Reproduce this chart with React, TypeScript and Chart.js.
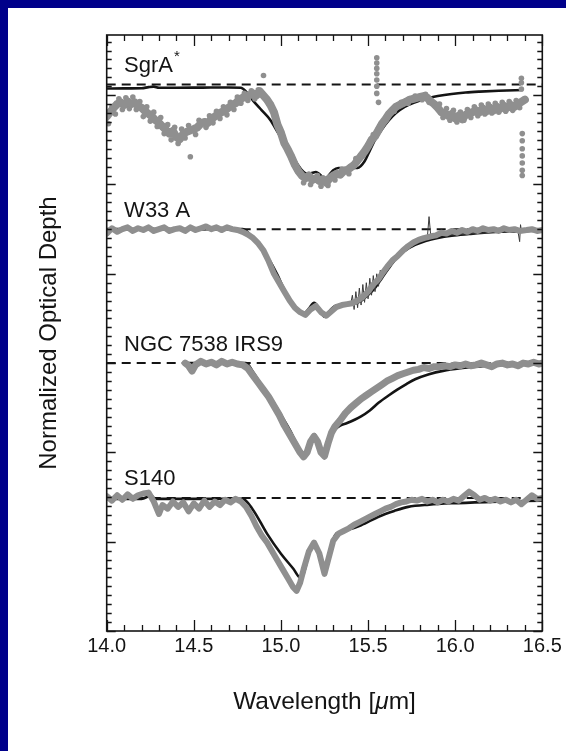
import { useEffect, useRef } from "react";
import { Chart, registerables } from "chart.js";

Chart.register(...registerables);

// ---------- axes ----------
const X_MIN = 14.0;
const X_MAX = 16.5;
const X_TICKS = [14.0, 14.5, 15.0, 15.5, 16.0, 16.5];
const Y_MIN = 0;
const Y_MAX = 6.674;
const X_TITLE_PARTS = ["Wavelength [", "μ", "m]"];
const Y_TITLE = "Normalized Optical Depth";

// ---------- spectra (label, baseline offset) ----------
const NAMES = ["SgrA", "W33 A", "NGC 7538 IRS9", "S140"];
const NAME_SUPERSCRIPTS = ["*", "", "", ""];
const BASELINES = [6.12, 4.5, 3.0, 1.49];

// depth below baseline, [wavelength, depth]
const SGR_FIT: [number, number][] = [
  [14.0, 0.045], [14.1, 0.044], [14.2, 0.042], [14.24, 0.03], [14.27, 0.024], [14.3, 0.036], [14.4, 0.036],
  [14.55, 0.035], [14.7, 0.034], [14.77, 0.036], [14.8, 0.08], [14.84, 0.18], [14.89, 0.29], [14.94, 0.4],
  [14.98, 0.53], [15.02, 0.66], [15.06, 0.78], [15.09, 0.88], [15.12, 0.96], [15.15, 1.0], [15.18, 0.99],
  [15.2, 0.98], [15.23, 1.02], [15.25, 1.07], [15.27, 1.03], [15.3, 0.96], [15.33, 0.935], [15.38, 0.935],
  [15.44, 0.935], [15.48, 0.86], [15.51, 0.74], [15.54, 0.62], [15.58, 0.5], [15.62, 0.4], [15.66, 0.32],
  [15.71, 0.25], [15.77, 0.2], [15.83, 0.16], [15.9, 0.13], [15.98, 0.106], [16.06, 0.09], [16.14, 0.08],
  [16.25, 0.07], [16.39, 0.062],
];
const SGR_DATA: [number, number][] = [
  [14.0, 0.36], [14.02, 0.31], [14.04, 0.26], [14.06, 0.22], [14.08, 0.2], [14.1, 0.23], [14.12, 0.19],
  [14.14, 0.22], [14.16, 0.2], [14.18, 0.24], [14.2, 0.26], [14.22, 0.3], [14.24, 0.33], [14.26, 0.36],
  [14.28, 0.4], [14.3, 0.43], [14.32, 0.47], [14.34, 0.51], [14.36, 0.55], [14.38, 0.52], [14.4, 0.59],
  [14.42, 0.61], [14.44, 0.55], [14.46, 0.53], [14.5, 0.5], [14.52, 0.48], [14.54, 0.44], [14.56, 0.42],
  [14.58, 0.43], [14.6, 0.39], [14.62, 0.36], [14.64, 0.33], [14.66, 0.31], [14.68, 0.29], [14.7, 0.26],
  [14.72, 0.23], [14.74, 0.21], [14.76, 0.17], [14.78, 0.15], [14.8, 0.13], [14.82, 0.12], [14.84, 0.1],
  [14.86, 0.12], [14.88, 0.08], [14.92, 0.17], [14.94, 0.23], [14.96, 0.31], [14.98, 0.45], [15.0, 0.54],
  [15.02, 0.66], [15.04, 0.73], [15.06, 0.81], [15.08, 0.9], [15.1, 0.97], [15.12, 1.02], [15.14, 1.05],
  [15.16, 1.02], [15.18, 1.07], [15.2, 1.05], [15.22, 1.08], [15.24, 1.06], [15.26, 1.1], [15.28, 1.05],
  [15.3, 1.02], [15.32, 1.0], [15.34, 1.01], [15.36, 0.97], [15.38, 0.96], [15.4, 0.93], [15.42, 0.9],
  [15.44, 0.85], [15.46, 0.8], [15.48, 0.75], [15.5, 0.69], [15.52, 0.62], [15.54, 0.58], [15.56, 0.51],
  [15.58, 0.44], [15.6, 0.39], [15.62, 0.33], [15.64, 0.29], [15.66, 0.25], [15.68, 0.23], [15.7, 0.21],
  [15.72, 0.19], [15.74, 0.17], [15.76, 0.16], [15.78, 0.15], [15.8, 0.14], [15.82, 0.13], [15.84, 0.15],
  [15.86, 0.19], [15.88, 0.22], [15.9, 0.26], [15.92, 0.31], [15.94, 0.32], [15.96, 0.35], [15.98, 0.33],
  [16.0, 0.38], [16.02, 0.35], [16.04, 0.39], [16.06, 0.34], [16.08, 0.32], [16.1, 0.31], [16.12, 0.29],
  [16.14, 0.31], [16.16, 0.27], [16.18, 0.3], [16.2, 0.26], [16.22, 0.29], [16.24, 0.25], [16.26, 0.27],
  [16.28, 0.24], [16.3, 0.26], [16.32, 0.23], [16.34, 0.25], [16.36, 0.22], [16.4, 0.17],
];
const SGR_SCATTER: [number, number][] = [
  [14.0, 0.43], [14.01, 0.44], [14.03, 0.25], [14.05, 0.33], [14.07, 0.16], [14.09, 0.28], [14.11, 0.15],
  [14.13, 0.27], [14.15, 0.14], [14.17, 0.28], [14.19, 0.19], [14.21, 0.36], [14.23, 0.25], [14.25, 0.41],
  [14.27, 0.31], [14.29, 0.47], [14.31, 0.37], [14.33, 0.55], [14.35, 0.45], [14.37, 0.62], [14.39, 0.48],
  [14.41, 0.66], [14.43, 0.5], [14.45, 0.6], [14.47, 0.46], [14.48, 0.81], [14.51, 0.56], [14.53, 0.4],
  [14.57, 0.48], [14.59, 0.35], [14.61, 0.43], [14.63, 0.3], [14.65, 0.38], [14.67, 0.25], [14.69, 0.34],
  [14.71, 0.2], [14.73, 0.28], [14.75, 0.14], [14.77, 0.21], [14.79, 0.1], [14.81, 0.18], [14.83, 0.07],
  [14.85, 0.16], [14.87, 0.06], [14.9, -0.1], [14.93, 0.22], [14.97, 0.4], [15.01, 0.58], [15.05, 0.79],
  [15.09, 0.95], [15.13, 1.1], [15.17, 1.12], [15.21, 1.02], [15.23, 1.14], [15.27, 1.13], [15.31, 1.07],
  [15.35, 0.95], [15.39, 1.0], [15.43, 0.83], [15.47, 0.8], [15.51, 0.64], [15.53, 0.56], [15.55, -0.3],
  [15.55, -0.24], [15.55, -0.18], [15.55, -0.12], [15.55, -0.05], [15.55, 0.02], [15.55, 0.1], [15.56, 0.2],
  [15.57, 0.46], [15.61, 0.35], [15.65, 0.3], [15.69, 0.2], [15.73, 0.21], [15.77, 0.13], [15.81, 0.17],
  [15.83, 0.11], [15.85, 0.2], [15.89, 0.25], [15.91, 0.22], [15.93, 0.37], [15.95, 0.27], [15.97, 0.4],
  [15.99, 0.29], [16.01, 0.42], [16.03, 0.31], [16.05, 0.4], [16.07, 0.28], [16.09, 0.37], [16.11, 0.25],
  [16.13, 0.35], [16.15, 0.23], [16.17, 0.33], [16.19, 0.22], [16.21, 0.32], [16.23, 0.21], [16.25, 0.31],
  [16.27, 0.2], [16.29, 0.3], [16.31, 0.19], [16.33, 0.29], [16.35, 0.18], [16.37, 0.26], [16.38, -0.07],
  [16.38, -0.02], [16.38, 0.05], [16.385, 0.55], [16.385, 0.63], [16.385, 0.72], [16.385, 0.8],
  [16.385, 0.88], [16.385, 0.96], [16.385, 1.02],
];

const W33_FIT: [number, number][] = [
  [14.0, 0], [14.78, 0], [14.82, 0.054], [14.86, 0.143], [14.9, 0.255], [14.94, 0.367], [14.98, 0.513],
  [15.02, 0.68], [15.06, 0.815], [15.1, 0.905], [15.13, 0.95], [15.16, 0.89], [15.19, 0.826], [15.22, 0.89],
  [15.25, 0.98], [15.28, 0.916], [15.31, 0.86], [15.36, 0.85], [15.42, 0.838], [15.46, 0.804], [15.5, 0.737],
  [15.54, 0.658], [15.58, 0.546], [15.62, 0.434], [15.66, 0.334], [15.71, 0.244], [15.77, 0.177],
  [15.83, 0.132], [15.9, 0.098], [15.98, 0.073], [16.08, 0.054], [16.18, 0.037], [16.3, 0.026], [16.5, 0.018],
];
const W33_DATA: [number, number][] = [
  [14.0, 0.05], [14.03, -0.01], [14.06, 0.03], [14.09, 0.0], [14.12, -0.02], [14.15, 0.02], [14.18, -0.01],
  [14.21, 0.01], [14.24, -0.02], [14.27, 0.02], [14.3, 0.0], [14.33, -0.02], [14.36, 0.02], [14.39, 0.0],
  [14.42, -0.01], [14.45, 0.02], [14.48, -0.02], [14.51, 0.01], [14.54, -0.01], [14.57, -0.03], [14.6, 0.0],
  [14.63, -0.02], [14.66, 0.01], [14.69, -0.02], [14.72, 0.0], [14.75, 0.01], [14.78, 0.03], [14.81, 0.06],
  [14.84, 0.1], [14.87, 0.16], [14.9, 0.24], [14.93, 0.36], [14.96, 0.5], [14.99, 0.6], [15.02, 0.7],
  [15.05, 0.8], [15.08, 0.88], [15.11, 0.93], [15.14, 0.96], [15.17, 0.9], [15.2, 0.86], [15.23, 0.93],
  [15.26, 0.97], [15.29, 0.92], [15.32, 0.87], [15.35, 0.85], [15.38, 0.84], [15.41, 0.83], [15.44, 0.8],
  [15.47, 0.76], [15.5, 0.7], [15.53, 0.62], [15.56, 0.56], [15.58, 0.5], [15.61, 0.42], [15.64, 0.35],
  [15.67, 0.3], [15.7, 0.24], [15.73, 0.19], [15.76, 0.15], [15.79, 0.12], [15.82, 0.1], [15.86, 0.08],
  [15.89, 0.07], [15.92, 0.04], [15.95, 0.05], [15.98, 0.02], [16.01, 0.04], [16.04, 0.01], [16.07, 0.03],
  [16.1, 0.0], [16.13, 0.02], [16.16, -0.01], [16.19, 0.01], [16.22, 0.0], [16.25, 0.02], [16.28, -0.01],
  [16.31, 0.01], [16.34, 0.0], [16.37, 0.02], [16.41, 0.01], [16.44, 0.0], [16.47, 0.02], [16.5, 0.01],
];
const W33_NOISE: [number, number][] = [
  [15.4, 0.84], [15.41, 0.74], [15.42, 0.9], [15.43, 0.7], [15.44, 0.88], [15.45, 0.66], [15.46, 0.85],
  [15.47, 0.62], [15.48, 0.82], [15.49, 0.6], [15.5, 0.78], [15.51, 0.55], [15.52, 0.74], [15.53, 0.52],
  [15.54, 0.7], [15.55, 0.5], [15.56, 0.64], [15.57, 0.46], [15.58, 0.55],
];
const W33_SPIKES: [number, number][] = [
  [15.84, 0.1], [15.85, -0.14], [15.86, 0.08], [16.36, 0.02], [16.37, 0.14], [16.375, -0.05], [16.38, 0.02],
];

const NGC_FIT: [number, number][] = [
  [14.45, 0], [14.8, 0], [14.84, 0.1], [14.88, 0.22], [14.92, 0.33], [14.96, 0.445], [15.0, 0.58],
  [15.05, 0.746], [15.09, 0.9], [15.13, 1.04], [15.15, 1.0], [15.17, 0.88], [15.19, 0.794], [15.21, 0.86],
  [15.23, 0.98], [15.25, 1.066], [15.27, 0.92], [15.29, 0.8], [15.31, 0.746], [15.34, 0.7], [15.38, 0.671],
  [15.46, 0.596], [15.51, 0.53], [15.56, 0.445], [15.62, 0.36], [15.67, 0.295], [15.72, 0.235],
  [15.77, 0.181], [15.85, 0.125], [15.93, 0.087], [16.03, 0.058], [16.14, 0.038], [16.3, 0.022], [16.5, 0.01],
];
const NGC_DATA: [number, number][] = [
  [14.45, 0.0], [14.47, 0.03], [14.49, 0.09], [14.51, 0.02], [14.54, -0.02], [14.57, 0.01], [14.6, -0.01],
  [14.63, 0.02], [14.66, -0.02], [14.69, 0.01], [14.72, -0.01], [14.75, 0.01], [14.78, 0.02], [14.81, 0.06],
  [14.84, 0.14], [14.87, 0.22], [14.9, 0.3], [14.93, 0.38], [14.96, 0.48], [14.99, 0.58], [15.02, 0.7],
  [15.05, 0.8], [15.08, 0.9], [15.11, 1.0], [15.13, 1.05], [15.15, 1.0], [15.17, 0.88], [15.19, 0.82],
  [15.21, 0.88], [15.23, 1.0], [15.25, 1.04], [15.27, 0.9], [15.29, 0.78], [15.31, 0.71], [15.34, 0.64],
  [15.37, 0.56], [15.4, 0.5], [15.43, 0.45], [15.46, 0.4], [15.49, 0.36], [15.52, 0.32], [15.55, 0.28],
  [15.58, 0.24], [15.61, 0.2], [15.64, 0.17], [15.67, 0.14], [15.7, 0.12], [15.73, 0.1], [15.76, 0.08],
  [15.79, 0.07], [15.82, 0.05], [15.85, 0.06], [15.88, 0.04], [15.91, 0.04], [15.94, 0.03], [15.97, 0.04],
  [16.0, 0.02], [16.03, 0.03], [16.06, 0.01], [16.09, 0.03], [16.12, 0.02], [16.15, 0.0], [16.18, 0.02],
  [16.21, 0.04], [16.24, 0.01], [16.27, 0.0], [16.3, 0.02], [16.33, 0.01], [16.36, 0.03], [16.39, 0.0],
  [16.42, 0.01], [16.45, -0.01], [16.48, 0.01], [16.5, 0.0],
];

const S140_FIT: [number, number][] = [
  [14.0, 0.01], [14.2, 0.01], [14.23, -0.01], [14.25, -0.035], [14.28, 0.01], [14.5, 0.01], [14.78, 0.01],
  [14.84, 0.134], [14.92, 0.4], [15.0, 0.625], [15.07, 0.79], [15.11, 0.89], [15.13, 0.85], [15.16, 0.63],
  [15.19, 0.49], [15.22, 0.625], [15.25, 0.79], [15.28, 0.587], [15.31, 0.418], [15.34, 0.38], [15.38, 0.36],
  [15.46, 0.305], [15.56, 0.21], [15.65, 0.146], [15.73, 0.1], [15.85, 0.075], [15.98, 0.06], [16.2, 0.045],
  [16.5, 0.03],
];
const S140_DATA: [number, number][] = [
  [14.0, -0.02], [14.03, 0.03], [14.06, -0.03], [14.09, 0.02], [14.12, -0.04], [14.15, 0.01], [14.18, -0.03],
  [14.21, -0.05], [14.24, -0.06], [14.27, 0.04], [14.3, 0.18], [14.32, 0.08], [14.35, 0.12], [14.38, 0.04],
  [14.41, 0.1], [14.44, 0.05], [14.47, 0.15], [14.5, 0.06], [14.53, 0.12], [14.56, 0.03], [14.59, 0.1],
  [14.62, 0.04], [14.65, 0.08], [14.68, 0.02], [14.71, 0.05], [14.74, 0.01], [14.77, 0.04], [14.8, 0.1],
  [14.83, 0.2], [14.86, 0.32], [14.89, 0.42], [14.92, 0.5], [14.95, 0.6], [14.98, 0.7], [15.01, 0.8],
  [15.04, 0.9], [15.07, 1.0], [15.09, 1.04], [15.11, 0.95], [15.13, 0.8], [15.16, 0.6], [15.19, 0.5],
  [15.22, 0.62], [15.25, 0.85], [15.27, 0.7], [15.3, 0.48], [15.33, 0.4], [15.36, 0.37], [15.39, 0.34],
  [15.42, 0.3], [15.45, 0.27], [15.48, 0.24], [15.51, 0.21], [15.54, 0.18], [15.57, 0.15], [15.6, 0.12],
  [15.63, 0.1], [15.66, 0.07], [15.69, 0.05], [15.72, 0.04], [15.75, 0.02], [15.78, 0.03], [15.81, 0.01],
  [15.84, 0.04], [15.87, 0.02], [15.9, 0.05], [15.93, 0.02], [15.96, 0.04], [15.99, 0.01], [16.02, 0.03],
  [16.05, -0.02], [16.08, -0.07], [16.11, -0.03], [16.14, 0.02], [16.17, 0.0], [16.2, 0.03], [16.23, 0.01],
  [16.26, 0.04], [16.29, 0.02], [16.32, 0.05], [16.35, 0.02], [16.38, 0.07], [16.41, 0.02], [16.44, -0.03],
  [16.47, 0.01], [16.5, 0.0],
];

// ---------- styles ----------
const NAVY = "#00008a";
const INK = "#141414";
const GRAY = "#8f8f8f";
const FONT = '"Liberation Sans", Arial, Helvetica, sans-serif';

type Pair = [number, number];
const toPts = (pairs: Pair[], base: number) => pairs.map(([x, d]) => ({ x, y: base - d }));

function band(pairs: Pair[], base: number, width: number) {
  return {
    data: toPts(pairs, base),
    showLine: true,
    borderColor: GRAY,
    backgroundColor: GRAY,
    borderWidth: width,
    pointRadius: 0,
    tension: 0,
    borderJoinStyle: "round" as const,
    borderCapStyle: "round" as const,
  };
}
function dots(pairs: Pair[], base: number, r: number) {
  return {
    data: toPts(pairs, base),
    showLine: false,
    pointRadius: r,
    pointBorderWidth: 0,
    pointBackgroundColor: GRAY,
    pointBorderColor: GRAY,
  };
}
function thin(pairs: Pair[], base: number, color: string, width: number) {
  return {
    data: toPts(pairs, base),
    showLine: true,
    borderColor: color,
    borderWidth: width,
    pointRadius: 0,
    tension: 0,
  };
}
function fit(pairs: Pair[], base: number) {
  return {
    data: toPts(pairs, base),
    showLine: true,
    borderColor: INK,
    borderWidth: 2.6,
    pointRadius: 0,
    cubicInterpolationMode: "monotone" as const,
  };
}
function dashed(base: number) {
  return {
    data: [
      { x: X_MIN, y: base },
      { x: X_MAX, y: base },
    ],
    showLine: true,
    borderColor: INK,
    borderWidth: 2,
    borderDash: [9, 6],
    pointRadius: 0,
  };
}

const overlay = {
  id: "overlay",
  afterDatasetsDraw(chart: any) {
    const { ctx, chartArea: a, scales } = chart;
    const xs = scales.x;
    const ys = scales.y;
    ctx.save();

    // spectrum names
    ctx.fillStyle = INK;
    ctx.textAlign = "left";
    ctx.textBaseline = "alphabetic";
    NAMES.forEach((name: string, i: number) => {
      const px = xs.getPixelForValue(14.1);
      const py = ys.getPixelForValue(BASELINES[i] + 0.14);
      ctx.font = `22px ${FONT}`;
      ctx.fillText(name, px, py);
      if (NAME_SUPERSCRIPTS[i]) {
        const w = ctx.measureText(name).width;
        ctx.font = `15px ${FONT}`;
        ctx.fillText(NAME_SUPERSCRIPTS[i], px + w + 1, py - 11);
      }
    });

    // frame
    ctx.strokeStyle = INK;
    ctx.lineWidth = 1.6;
    ctx.strokeRect(a.left, a.top, a.right - a.left, a.bottom - a.top);

    // ticks, all inward
    ctx.lineWidth = 1.3;
    ctx.beginPath();
    for (let i = 0; i <= 25; i++) {
      const px = Math.round(xs.getPixelForValue(X_MIN + i * 0.1)) + 0.5;
      const len = i % 5 === 0 ? 11 : 6;
      ctx.moveTo(px, a.bottom);
      ctx.lineTo(px, a.bottom - len);
      ctx.moveTo(px, a.top);
      ctx.lineTo(px, a.top + len);
    }
    for (let i = 0; i * 0.1 <= Y_MAX; i++) {
      const py = Math.round(ys.getPixelForValue(i * 0.1)) + 0.5;
      const len = i % 10 === 0 ? 9 : 5;
      ctx.moveTo(a.left, py);
      ctx.lineTo(a.left + len, py);
      ctx.moveTo(a.right, py);
      ctx.lineTo(a.right - len, py);
    }
    ctx.stroke();

    // x title with italic mu
    const size = 24.5;
    const fonts = [`${size}px ${FONT}`, `italic ${size}px ${FONT}`, `${size}px ${FONT}`];
    let total = 0;
    const widths = X_TITLE_PARTS.map((t, k) => {
      ctx.font = fonts[k];
      const w = ctx.measureText(t).width;
      total += w;
      return w;
    });
    let cx = (a.left + a.right) / 2 - total / 2;
    const by = a.bottom + 78;
    X_TITLE_PARTS.forEach((t, k) => {
      ctx.font = fonts[k];
      ctx.fillText(t, cx, by);
      cx += widths[k];
    });
    ctx.restore();
  },
};

export default function App() {
  const ref = useRef<HTMLCanvasElement>(null);
  useEffect(() => {
    Chart.defaults.font.family = FONT;
    const datasets: any[] = [
      band(SGR_DATA, BASELINES[0], 8),
      dots(SGR_DATA, BASELINES[0], 3.4),
      dots(SGR_SCATTER, BASELINES[0], 2.8),
      band(W33_DATA, BASELINES[1], 6),
      thin(W33_NOISE, BASELINES[1], "#3a3a3a", 1),
      thin(W33_SPIKES, BASELINES[1], "#3a3a3a", 1),
      band(NGC_DATA, BASELINES[2], 7),
      band(S140_DATA, BASELINES[3], 6),
      fit(SGR_FIT, BASELINES[0]),
      fit(W33_FIT, BASELINES[1]),
      fit(NGC_FIT, BASELINES[2]),
      fit(S140_FIT, BASELINES[3]),
      ...BASELINES.map((b) => dashed(b)),
    ];
    const chart = new Chart(ref.current!, {
      type: "scatter",
      data: { datasets },
      options: {
        animation: false,
        responsive: false,
        devicePixelRatio: 1,
        layout: { padding: { top: 27, right: 23.7, bottom: 0, left: 0 } },
        plugins: { legend: { display: false }, tooltip: { enabled: false } },
        scales: {
          x: {
            type: "linear",
            min: X_MIN,
            max: X_MAX,
            grid: { display: false, drawTicks: false },
            border: { display: false },
            afterBuildTicks: (s: any) => {
              s.ticks = X_TICKS.map((v) => ({ value: v }));
            },
            afterFit: (s: any) => {
              s.height = 120;
            },
            ticks: {
              autoSkip: false,
              maxRotation: 0,
              padding: 3,
              color: INK,
              font: { size: 20, family: FONT },
              callback: (v: any) => Number(v).toFixed(1),
            },
          },
          y: {
            type: "linear",
            min: Y_MIN,
            max: Y_MAX,
            grid: { display: false, drawTicks: false },
            border: { display: false },
            ticks: { display: false },
            afterFit: (s: any) => {
              s.width = 98.7;
            },
            title: {
              display: true,
              text: Y_TITLE,
              color: INK,
              font: { size: 24, family: FONT },
              padding: { top: 27, bottom: 0 },
            },
          },
        },
      },
      plugins: [overlay],
    });
    return () => chart.destroy();
  }, []);

  return (
    <div style={{ position: "fixed", inset: 0, background: NAVY }}>
      <div style={{ position: "absolute", left: 8, top: 8, width: 558, height: 743, background: "#fff" }}>
        <canvas ref={ref} width={558} height={743} style={{ display: "block" }} />
      </div>
    </div>
  );
}
